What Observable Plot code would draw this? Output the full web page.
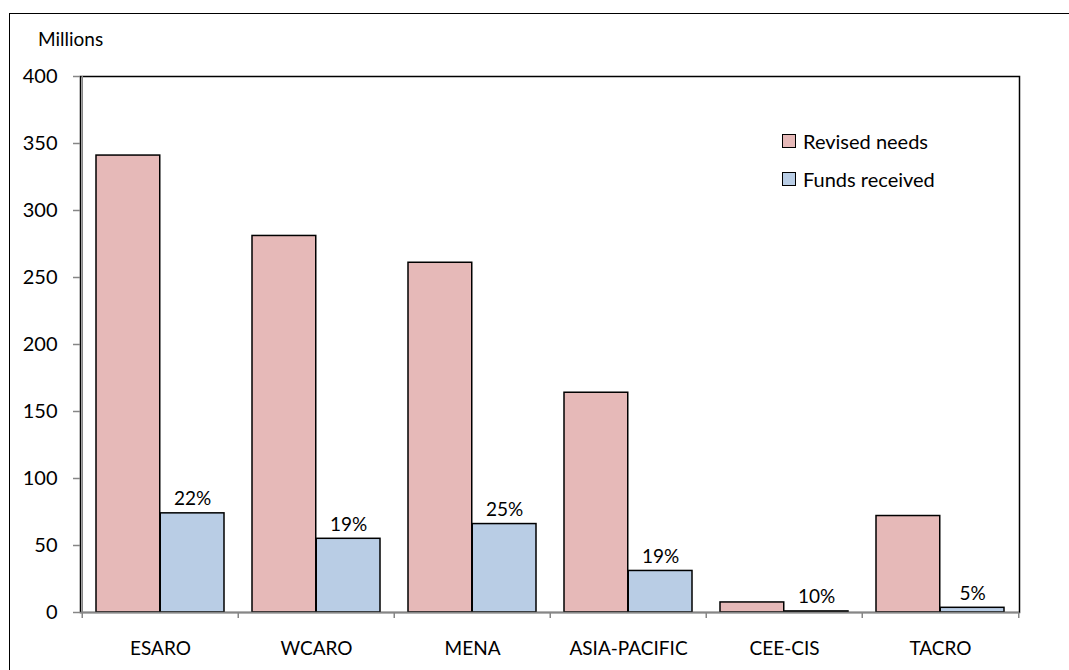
<!DOCTYPE html>
<html>
<head>
<meta charset="utf-8">
<script src="https://cdn.jsdelivr.net/npm/d3@7"></script>
<script src="https://cdn.jsdelivr.net/npm/@observablehq/plot@0.6"></script>
<style>
  html, body { margin: 0; padding: 0; background: #fff; overflow: hidden; }
  #wrap { position: relative; width: 1069px; height: 670px; font-family: Lato, "Open Sans", sans-serif; }
  #border { position: absolute; left: 9px; top: 13px; width: 1200px; height: 800px; border-left: 1.5px solid #000; border-top: 1.5px solid #000; pointer-events: none; }
  #units { position: absolute; left: 38px; top: 27px; font-size: 19px; color: #000; }
  #legend { position: absolute; left: 782px; top: 128px; font-size: 20px; color: #000; }
  .lg-row { display: flex; align-items: center; height: 26px; margin-bottom: 12px; }
  .lg-sw { width: 12px; height: 12px; border: 1.5px solid #000; margin-right: 7px; box-sizing: content-box; }
  svg { position: absolute; left: 0; top: 0; }
</style>
</head>
<body>
<div id="wrap">
  <div id="border"></div>
  <div id="units"></div>
  <div id="legend"></div>
</div>
<script>
const regions = ["ESARO", "WCARO", "MENA", "ASIA-PACIFIC", "CEE-CIS", "TACRO"];
const revisedNeeds = [341, 281, 261, 164, 7.5, 72];
const fundsReceived = [74, 55, 66, 31, 0.8, 3.5];
const pctLabels = ["22%", "19%", "25%", "19%", "10%", "5%"];
const seriesNames = ["Revised needs", "Funds received"];
const seriesColors = ["#E6B9B8", "#B9CDE5"];
const yTicks = [0, 50, 100, 150, 200, 250, 300, 350, 400];
const unitsLabel = "Millions";

const W = 1069, H = 670;
const mL = 80, mR = 50, mT = 76, mB = 58;
const bw = (W - mL - mR) / regions.length;
const barW = 64.25, outer = 14;
const axisGray = "#868686";

const needsData = regions.map((r, i) => ({region: r, value: revisedNeeds[i]}));
const fundsData = regions.map((r, i) => ({region: r, value: fundsReceived[i], label: pctLabels[i]}));

const chart = Plot.plot({
  width: W, height: H,
  marginLeft: mL, marginRight: mR, marginTop: mT, marginBottom: mB,
  style: {fontFamily: "Lato, 'Open Sans', sans-serif", fontSize: "19px", color: "#000", background: "transparent"},
  x: {domain: regions, padding: 0, label: null},
  y: {domain: [0, 400], label: null},
  marks: [
    Plot.barY(needsData, {x: "region", y: "value", fill: seriesColors[0], stroke: "#000", strokeWidth: 1.5,
      insetLeft: outer, insetRight: bw - outer - barW}),
    Plot.barY(fundsData, {x: "region", y: "value", fill: seriesColors[1], stroke: "#000", strokeWidth: 1.5,
      insetLeft: bw - outer - barW, insetRight: outer}),
    Plot.text(fundsData, {x: "region", y: "value", text: "label", dx: (bw - outer - barW) + barW / 2 - bw / 2,
      dy: -8, lineAnchor: "bottom", fontSize: 19, fill: "#000"}),
    Plot.frame({stroke: "#000", strokeWidth: 1.5}),
    Plot.ruleY([0], {stroke: axisGray, strokeWidth: 1.5}),
    Plot.ruleX([regions[0]], {dx: -bw / 2, stroke: axisGray, strokeWidth: 1.5}),
    Plot.axisY({ticks: yTicks, tickSize: 7, tickPadding: 16, stroke: axisGray, strokeWidth: 1.5, fontSize: 20, fill: "#000"}),
    Plot.axisX({tickSize: 0, tickPadding: 29, fontSize: 19, fill: "#000"}),
    Plot.axisX({tickSize: 6, tickFormat: () => "", dx: -bw / 2, stroke: axisGray, strokeWidth: 1.5}),
    Plot.axisX({ticks: [regions[regions.length - 1]], tickSize: 6, tickFormat: () => "", dx: bw / 2, stroke: axisGray, strokeWidth: 1.5})
  ]
});
document.getElementById("wrap").appendChild(chart);

document.getElementById("units").textContent = unitsLabel;
const legend = document.getElementById("legend");
seriesNames.forEach((name, i) => {
  const row = document.createElement("div");
  row.className = "lg-row";
  const sw = document.createElement("div");
  sw.className = "lg-sw";
  sw.style.background = seriesColors[i];
  const t = document.createElement("span");
  t.textContent = name;
  row.appendChild(sw);
  row.appendChild(t);
  legend.appendChild(row);
});
</script>
</body>
</html>
